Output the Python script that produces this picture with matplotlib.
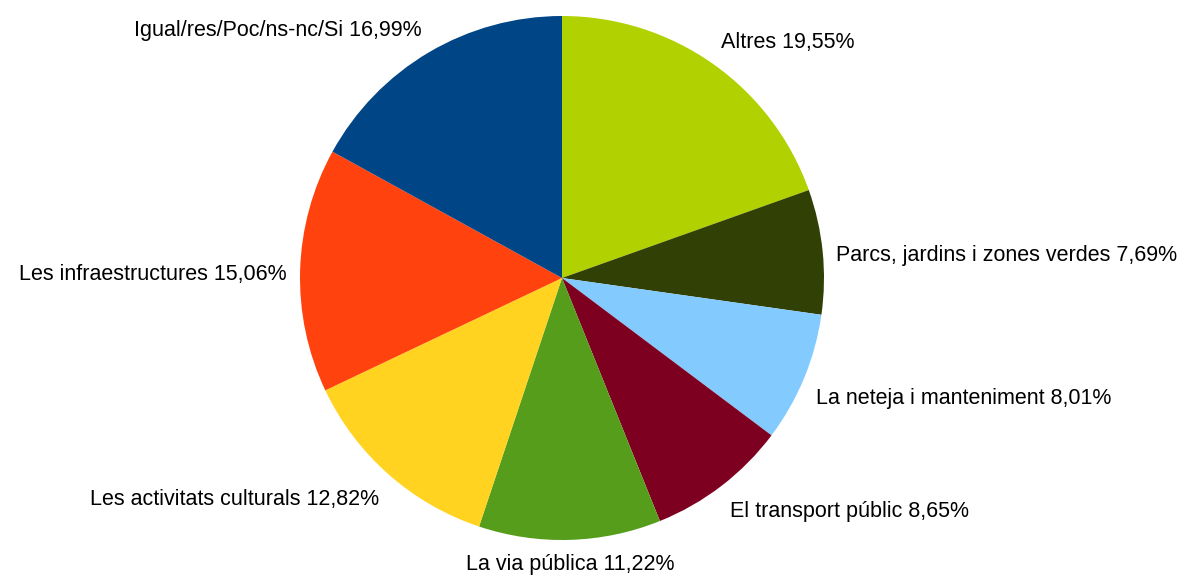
import numpy as np
import matplotlib.pyplot as plt

labels = ["Altres", "Parcs, jardins i zones verdes", "La neteja i manteniment",
          "El transport públic", "La via pública", "Les activitats culturals",
          "Les infraestructures", "Igual/res/Poc/ns-nc/Si"]
values = [19.55, 7.69, 8.01, 8.65, 11.22, 12.82, 15.06, 16.99]
colors = ["#b2d100", "#314004", "#83caff", "#7e0021",
          "#579d1c", "#ffd320", "#ff420e", "#004586"]

plt.rcParams['font.family'] = ['Liberation Sans', 'DejaVu Sans']

fig = plt.figure(figsize=(11.85, 5.76), dpi=100)
ax = fig.add_axes([0, 0, 1, 1])

cx, cy, r = 562, 298, 262
wedges, _ = ax.pie(values, colors=colors, startangle=90, counterclock=False,
                   center=(cx, cy), radius=r, frame=True,
                   wedgeprops=dict(linewidth=0))
ax.set_xlim(0, 1185)
ax.set_ylim(0, 576)
ax.set_aspect('equal')
ax.axis('off')

# labels sit just outside each slice, anchored on the corner nearest the pie
for w, lab, v in zip(wedges, labels, values):
    mid = np.deg2rad((w.theta1 + w.theta2) / 2)
    c, s = np.cos(mid), np.sin(mid)
    x = cx + r * 1.05 * c
    y = cy + r * 1.05 * s
    ha = 'left' if c > 0.1 else ('right' if c < -0.1 else 'center')
    va = 'bottom' if s > 0.2 else ('top' if s < -0.2 else 'center')
    if va != 'bottom':
        y -= 5 if ha != 'center' else 1
    txt = "{} {}%".format(lab, ("%.2f" % v).replace('.', ','))
    ax.text(x, y, txt, ha=ha, va=va, fontsize=15.5, color='#000000')

fig.savefig("out.png", dpi=100)
